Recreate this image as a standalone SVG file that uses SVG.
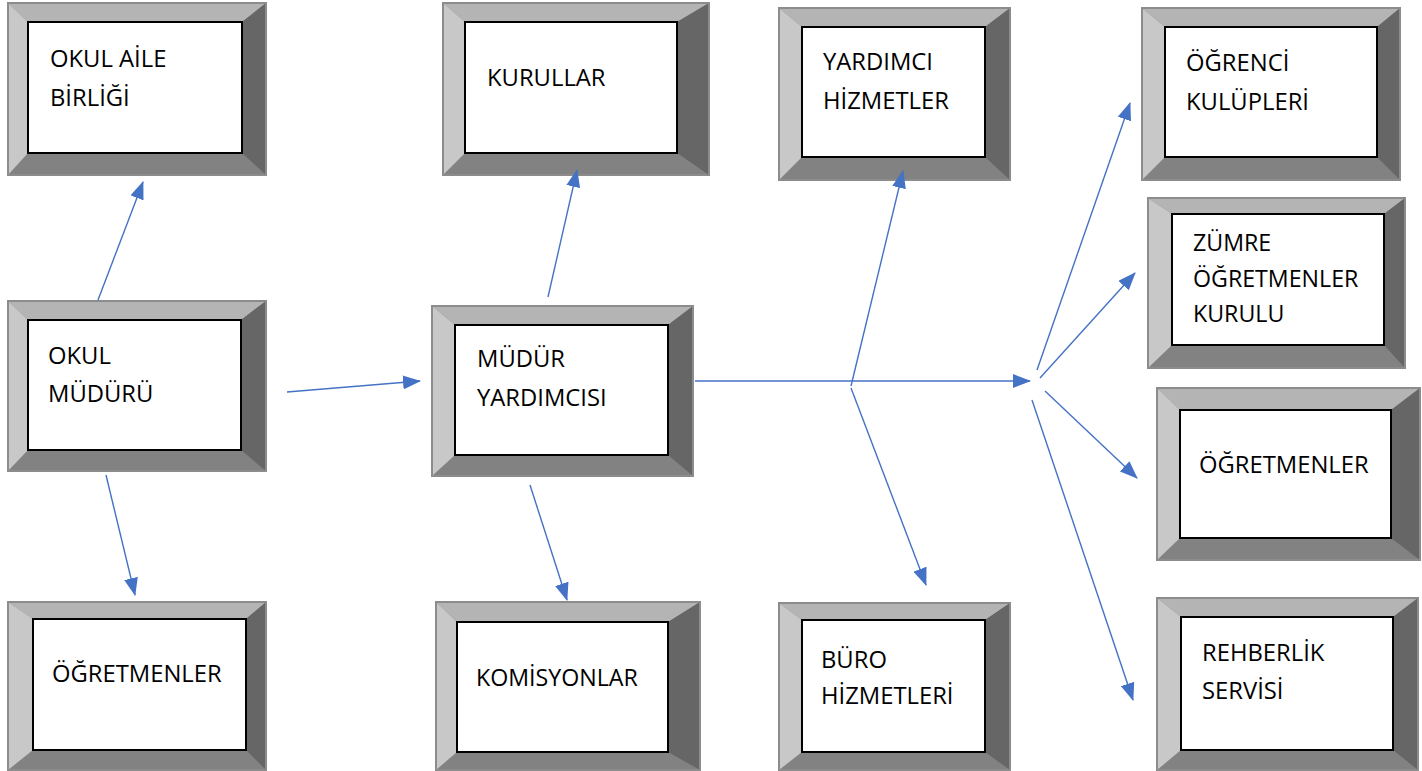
<svg xmlns="http://www.w3.org/2000/svg" width="1422" height="771" viewBox="0 0 1422 771">
<style>
.o{fill:#828282}
.ob{fill:none;stroke:#8c8c8c;stroke-width:2}
.t{fill:#b4b4b4}
.l{fill:#c8c8c8}
.r{fill:#666666}
.i{fill:#ffffff;stroke:#000000;stroke-width:2}
text{font-family:"Open Sans","Noto Sans",sans-serif;font-size:23.8px;fill:#000000}
.s{font-size:23.2px}
.c line{stroke:#4472c4;stroke-width:1.4;fill:none}
.c .a{marker-end:url(#ah)}
</style>
<defs>
<marker id="ah" markerUnits="userSpaceOnUse" markerWidth="18" markerHeight="14" refX="17" refY="7" orient="auto">
<path d="M0,0 L18,7 L0,14 z" fill="#4472c4"/>
</marker>
</defs>
<rect width="1422" height="771" fill="#ffffff"/>

<g id="n-okul-aile">
<rect class="o" x="8" y="3" width="258" height="172"/>
<polygon class="t" points="8,3 266,3 242,22 28,22"/>
<polygon class="l" points="8,3 28,22 28,153 8,175"/>
<polygon class="r" points="266,3 266,175 242,153 242,22"/>
<rect class="ob" x="8" y="3" width="258" height="172"/>
<rect class="i" x="28" y="22" width="214" height="131"/>
<text x="50" y="67">OKUL AİLE</text>
<text x="50" y="106">BİRLİĞİ</text>
</g>

<g id="n-kurullar">
<rect class="o" x="443" y="3" width="266" height="172"/>
<polygon class="t" points="443,3 709,3 677,22 465,22"/>
<polygon class="l" points="443,3 465,22 465,153 443,175"/>
<polygon class="r" points="709,3 709,175 677,153 677,22"/>
<rect class="ob" x="443" y="3" width="266" height="172"/>
<rect class="i" x="465" y="22" width="212" height="131"/>
<text x="487" y="86">KURULLAR</text>
</g>

<g id="n-yardimci">
<rect class="o" x="779" y="8" width="231" height="172"/>
<polygon class="t" points="779,8 1010,8 985,27 802,27"/>
<polygon class="l" points="779,8 802,27 802,157 779,180"/>
<polygon class="r" points="1010,8 1010,180 985,157 985,27"/>
<rect class="ob" x="779" y="8" width="231" height="172"/>
<rect class="i" x="802" y="27" width="183" height="130"/>
<text x="823" y="70">YARDIMCI</text>
<text x="823" y="109">HİZMETLER</text>
</g>

<g id="n-ogrenci">
<rect class="o" x="1142" y="8" width="258" height="172"/>
<polygon class="t" points="1142,8 1400,8 1377,27 1165,27"/>
<polygon class="l" points="1142,8 1165,27 1165,157 1142,180"/>
<polygon class="r" points="1400,8 1400,180 1377,157 1377,27"/>
<rect class="ob" x="1142" y="8" width="258" height="172"/>
<rect class="i" x="1165" y="27" width="212" height="130"/>
<text x="1186" y="71">ÖĞRENCİ</text>
<text x="1186" y="110">KULÜPLERİ</text>
</g>

<g id="n-okul-muduru">
<rect class="o" x="8" y="301" width="258" height="170"/>
<polygon class="t" points="8,301 266,301 241,320 28,320"/>
<polygon class="l" points="8,301 28,320 28,450 8,471"/>
<polygon class="r" points="266,301 266,471 241,450 241,320"/>
<rect class="ob" x="8" y="301" width="258" height="170"/>
<rect class="i" x="28" y="320" width="213" height="130"/>
<text x="48" y="364">OKUL</text>
<text x="48" y="402">MÜDÜRÜ</text>
</g>

<g id="n-mudur-yardimcisi">
<rect class="o" x="432" y="306" width="261" height="170"/>
<polygon class="t" points="432,306 693,306 668,325 455,325"/>
<polygon class="l" points="432,306 455,325 455,455 432,476"/>
<polygon class="r" points="693,306 693,476 668,455 668,325"/>
<rect class="ob" x="432" y="306" width="261" height="170"/>
<rect class="i" x="455" y="325" width="213" height="130"/>
<text x="477" y="367">MÜDÜR</text>
<text x="477" y="406">YARDIMCISI</text>
</g>

<g id="n-zumre">
<rect class="o" x="1148" y="198" width="257" height="170"/>
<polygon class="t" points="1148,198 1405,198 1384,214 1172,214"/>
<polygon class="l" points="1148,198 1172,214 1172,345 1148,368"/>
<polygon class="r" points="1405,198 1405,368 1384,345 1384,214"/>
<rect class="ob" x="1148" y="198" width="257" height="170"/>
<rect class="i" x="1172" y="214" width="212" height="131"/>
<text class="s" x="1193" y="251">ZÜMRE</text>
<text class="s" x="1193" y="287">ÖĞRETMENLER</text>
<text class="s" x="1193" y="322">KURULU</text>
</g>

<g id="n-ogretmenler-r">
<rect class="o" x="1157" y="388" width="263" height="172"/>
<polygon class="t" points="1157,388 1420,388 1391,410 1180,410"/>
<polygon class="l" points="1157,388 1180,410 1180,538 1157,560"/>
<polygon class="r" points="1420,388 1420,560 1391,538 1391,410"/>
<rect class="ob" x="1157" y="388" width="263" height="172"/>
<rect class="i" x="1180" y="410" width="211" height="128"/>
<text x="1199" y="473">ÖĞRETMENLER</text>
</g>

<g id="n-ogretmenler-l">
<rect class="o" x="8" y="602" width="258" height="168"/>
<polygon class="t" points="8,602 266,602 246,619 33,619"/>
<polygon class="l" points="8,602 33,619 33,750 8,770"/>
<polygon class="r" points="266,602 266,770 246,750 246,619"/>
<rect class="ob" x="8" y="602" width="258" height="168"/>
<rect class="i" x="33" y="619" width="213" height="131"/>
<text x="52" y="682">ÖĞRETMENLER</text>
</g>

<g id="n-komisyonlar">
<rect class="o" x="436" y="602" width="264" height="168"/>
<polygon class="t" points="436,602 700,602 668,622 457,622"/>
<polygon class="l" points="436,602 457,622 457,752 436,770"/>
<polygon class="r" points="700,602 700,770 668,752 668,622"/>
<rect class="ob" x="436" y="602" width="264" height="168"/>
<rect class="i" x="457" y="622" width="211" height="130"/>
<text class="s" x="476" y="686">KOMİSYONLAR</text>
</g>

<g id="n-buro">
<rect class="o" x="779" y="603" width="231" height="167"/>
<polygon class="t" points="779,603 1010,603 985,620 802,620"/>
<polygon class="l" points="779,603 802,620 802,752 779,770"/>
<polygon class="r" points="1010,603 1010,770 985,752 985,620"/>
<rect class="ob" x="779" y="603" width="231" height="167"/>
<rect class="i" x="802" y="620" width="183" height="132"/>
<text x="821" y="668">BÜRO</text>
<text x="821" y="704">HİZMETLERİ</text>
</g>

<g id="n-rehberlik">
<rect class="o" x="1157" y="598" width="261" height="172"/>
<polygon class="t" points="1157,598 1418,598 1393,617 1181,617"/>
<polygon class="l" points="1157,598 1181,617 1181,750 1157,770"/>
<polygon class="r" points="1418,598 1418,770 1393,750 1393,617"/>
<rect class="ob" x="1157" y="598" width="261" height="172"/>
<rect class="i" x="1181" y="617" width="212" height="133"/>
<text x="1202" y="661">REHBERLİK</text>
<text x="1202" y="699">SERVİSİ</text>
</g>

<g id="connectors" class="c">
<line class="a" x1="98" y1="300" x2="143" y2="182"/>
<line class="a" x1="106" y1="475" x2="135" y2="595"/>
<line class="a" x1="287" y1="392" x2="420" y2="381"/>
<line class="a" x1="548" y1="297" x2="577" y2="170"/>
<line class="a" x1="530" y1="485" x2="567" y2="600"/>
<line class="a" x1="695" y1="381" x2="1030" y2="381"/>
<line class="a" x1="851" y1="386" x2="903" y2="171"/>
<line class="a" x1="851" y1="388" x2="926" y2="585"/>
<line class="a" x1="1037" y1="370" x2="1130" y2="103"/>
<line class="a" x1="1040" y1="378" x2="1135" y2="273"/>
<line class="a" x1="1045" y1="391" x2="1137" y2="478"/>
<line class="a" x1="1032" y1="400" x2="1133" y2="700"/>
</g>
</svg>
